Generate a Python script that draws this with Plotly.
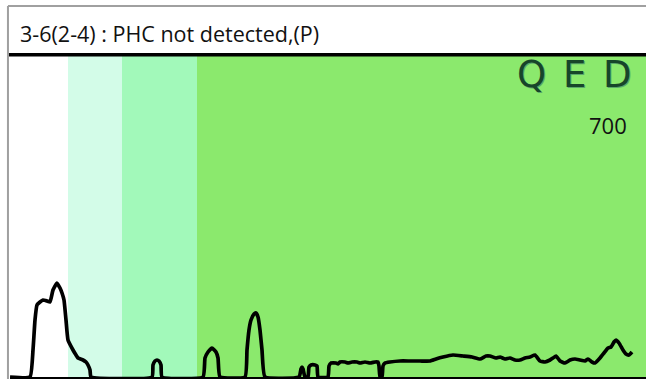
import plotly.graph_objects as go

# Chromatogram trace (retention index vs detector response)
rt = [0, 20, 23, 25, 27, 30, 33, 37, 40, 43, 47, 50, 52, 54, 56, 58, 63, 66, 68, 73, 76, 78, 80, 81,
      142, 143, 145, 147, 149, 151, 152,
      193, 195, 198, 202, 206, 208, 210,
      235, 237, 239, 241, 244, 246, 248, 250, 252, 255,
      289, 291, 292, 293, 295,
      298, 299, 301, 305, 307, 308,
      318, 319, 321, 326, 328, 330, 335, 338, 342, 347, 350, 355, 360, 365, 368, 369, 370,
      372, 373, 375, 380, 390, 400, 410, 420, 426, 433, 443, 453, 462, 470, 476, 480, 486, 490,
      495, 500, 505, 510, 515, 520, 525, 530, 535, 540, 543, 546, 550, 555, 560, 565, 570, 575,
      578, 582, 585, 590, 594, 598, 601, 604, 606, 609, 613, 616, 619, 622]
response = [0, 0, 27, 57, 72, 75, 77, 76, 75, 87, 94, 89, 84, 77, 57, 37, 27, 22, 19, 17, 15, 12, 7, 0,
            0, 12, 16, 17, 16, 12, 0,
            0, 19, 25, 29, 25, 19, 0,
            0, 27, 47, 57, 63, 64, 60, 47, 27, 0,
            0, 8, 10, 8, 0,
            0, 10, 12, 12, 11, 0,
            0, 11, 14, 14, 13, 15, 15, 14, 15, 15, 14, 15, 14, 15, 15, 11, 0,
            0, 11, 14, 15, 16, 16, 16, 16, 18, 20, 22, 21, 20, 18, 21, 21, 19,
            20, 18, 19, 17, 17, 19, 20, 22, 16, 15, 17, 19, 21, 16, 14, 17, 18, 17,
            16, 18, 15, 14, 19, 24, 29, 30, 35, 37, 34, 27, 23, 22, 25, 27]

# Shaded carbon-range bands behind the trace
band_edges = [0, 58, 112, 187, 636]
band_colors = ["#ffffff", "#d3fce8", "#a2f9ba", "#8be96d"]

title_text = "3-6(2-4) : PHC not detected,(P)"
logo_letters = ["Q", "E", "D"]
scale_label = "700"

fig = go.Figure()
fig.add_trace(go.Scatter(x=rt, y=response, mode="lines",
                         line=dict(color="#000000", width=3.7, shape="spline", smoothing=0.4),
                         hoverinfo="skip", showlegend=False))

shapes = []
for i, c in enumerate(band_colors):
    shapes.append(dict(type="rect", xref="x", yref="paper", x0=band_edges[i], x1=band_edges[i + 1],
                       y0=0, y1=1, fillcolor=c, line=dict(width=0), layer="below"))
# heavy rule under the header
shapes.append(dict(type="line", xref="paper", yref="paper", x0=-0.002, x1=1, y0=1.004, y1=1.004,
                   line=dict(color="#000000", width=3.5)))
# outer frame (top and left edges)
shapes.append(dict(type="line", xref="paper", yref="paper", x0=-0.0032, x1=1, y0=1.156, y1=1.156,
                   line=dict(color="#a0a0a0", width=2)))
shapes.append(dict(type="line", xref="paper", yref="paper", x0=-0.0032, x1=-0.0032, y0=-0.01, y1=1.156,
                   line=dict(color="#a0a0a0", width=2)))

annotations = [
    dict(text=title_text, xref="paper", yref="paper", x=(18 - 10) / 636, y=(377 - 33) / 321,
         xanchor="left", yanchor="middle", showarrow=False,
         font=dict(family="Open Sans", size=21.5, color="#111111")),
    dict(text=scale_label, xref="paper", yref="paper", x=(629 - 10) / 636, y=(377 - 125) / 321,
         xanchor="right", yanchor="middle", showarrow=False,
         font=dict(family="Open Sans", size=22, color="#111111")),
]
logo_x = [531, 574, 617]
for letter, px in zip(logo_letters, logo_x):
    annotations.append(dict(text=letter, xref="paper", yref="paper", x=(px - 10) / 636, y=(377 - 74) / 321,
                            xanchor="center", yanchor="middle", showarrow=False,
                            font=dict(family="DejaVu Sans", size=37, color="#17452a",
                                      shadow="1px 1px 0px #5aa86a")))

fig.update_layout(
    width=646, height=379,
    margin=dict(l=10, r=0, t=56, b=2),
    paper_bgcolor="#ffffff", plot_bgcolor="#ffffff",
    shapes=shapes, annotations=annotations,
    xaxis=dict(range=[0, 636], visible=True, showgrid=False, zeroline=False, showticklabels=False,
               ticks="", showline=True, linecolor="#000000", linewidth=2),
    yaxis=dict(range=[0, 321], visible=False, showgrid=False, zeroline=False),
)

fig.write_html("out.html")
